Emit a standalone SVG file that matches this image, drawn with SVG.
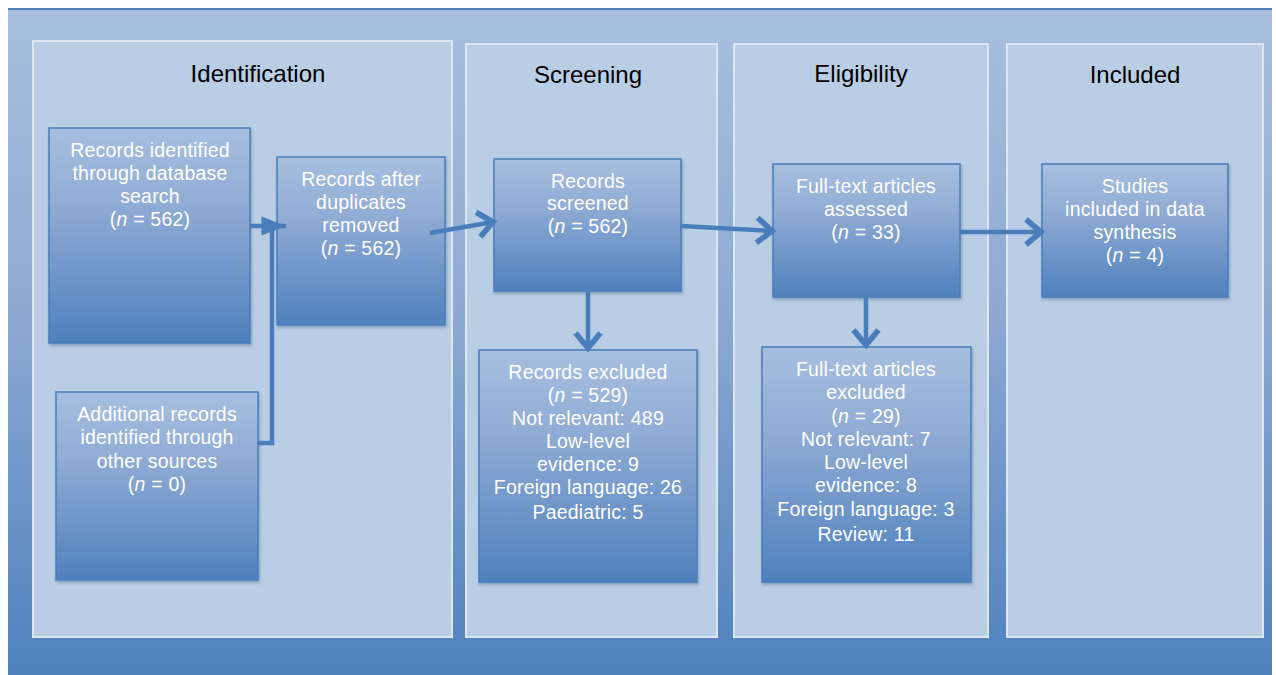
<svg xmlns="http://www.w3.org/2000/svg" width="1276" height="675" viewBox="0 0 1276 675">
<defs>
<linearGradient id="bg" x1="0" y1="0" x2="0" y2="1">
<stop offset="0" stop-color="#a8c0de"/>
<stop offset="0.45" stop-color="#8eaad3"/>
<stop offset="1" stop-color="#4f81bd"/>
</linearGradient>
<linearGradient id="node" x1="0" y1="0" x2="0" y2="1">
<stop offset="0" stop-color="#a7bfdf"/>
<stop offset="0.35" stop-color="#91acd5"/>
<stop offset="1" stop-color="#4f81bd"/>
</linearGradient>
<marker id="chev" markerUnits="userSpaceOnUse" markerWidth="30" markerHeight="30" refX="0" refY="0" viewBox="-16 -12 20 24" orient="auto">
<path d="M -12 -10 L 0 0 L -12 10" fill="none" stroke="#4a7ebb" stroke-width="4.5" stroke-linejoin="miter"/>
</marker>
<marker id="tri" markerUnits="userSpaceOnUse" markerWidth="30" markerHeight="30" refX="0" refY="0" viewBox="-20 -10 22 20" orient="auto">
<path d="M -18 -7 L 0 0 L -18 7 Z" fill="#4a7ebb"/>
</marker>
<filter id="sh" x="-5%" y="-5%" width="110%" height="110%">
<feDropShadow dx="1" dy="2" stdDeviation="1.5" flood-color="#1f3f66" flood-opacity="0.35"/>
</filter>
</defs>
<style>
.panel{fill:#b9cde5;stroke:#dde7f2;stroke-width:2}
.box{fill:url(#node);stroke:#4a7ebb;stroke-width:1.5}
.title{font-family:"Liberation Sans",Arial,sans-serif;font-size:24px;fill:#000;text-anchor:middle}
.t{font-family:"Liberation Sans",Arial,sans-serif;font-size:19.5px;letter-spacing:0.2px;fill:#fff;text-anchor:middle}
.conn{fill:none;stroke:#4a7ebb;stroke-width:4.5}
</style>
<rect x="0" y="0" width="1276" height="675" fill="#ffffff"/>
<rect x="8" y="8" width="1264" height="667" fill="url(#bg)"/>
<line x1="8" y1="9" x2="1272" y2="9" stroke="#4f81bd" stroke-width="2"/>

<g id="panel-identification">
<rect class="panel" x="33" y="41" width="419" height="596"/>
<text class="title" x="258" y="82">Identification</text>
</g>
<g id="panel-screening">
<rect class="panel" x="466" y="44" width="251" height="593"/>
<text class="title" x="588" y="83">Screening</text>
</g>
<g id="panel-eligibility">
<rect class="panel" x="734" y="44" width="254" height="593"/>
<text class="title" x="861" y="82">Eligibility</text>
</g>
<g id="panel-included">
<rect class="panel" x="1007" y="44" width="256" height="593"/>
<text class="title" x="1135" y="83">Included</text>
</g>

<g id="node-db">
<rect class="box" filter="url(#sh)" x="49" y="128" width="201" height="215"/>
<text class="t" x="150" y="157">Records identified</text>
<text class="t" x="150" y="180">through database</text>
<text class="t" x="150" y="203">search</text>
<text class="t" x="150" y="226">(<tspan font-style="italic">n</tspan> = 562)</text>
</g>
<g id="node-dup">
<rect class="box" filter="url(#sh)" x="277" y="157" width="168" height="168"/>
<text class="t" x="361" y="186">Records after</text>
<text class="t" x="361" y="209">duplicates</text>
<text class="t" x="361" y="232">removed</text>
<text class="t" x="361" y="255">(<tspan font-style="italic">n</tspan> = 562)</text>
</g>
<g id="node-other">
<rect class="box" filter="url(#sh)" x="56" y="392" width="202" height="188"/>
<text class="t" x="157" y="421">Additional records</text>
<text class="t" x="157" y="444">identified through</text>
<text class="t" x="157" y="468">other sources</text>
<text class="t" x="157" y="491">(<tspan font-style="italic">n</tspan> = 0)</text>
</g>
<g id="node-screened">
<rect class="box" filter="url(#sh)" x="494" y="159" width="187" height="132"/>
<text class="t" x="588" y="188">Records</text>
<text class="t" x="588" y="210">screened</text>
<text class="t" x="588" y="233">(<tspan font-style="italic">n</tspan> = 562)</text>
</g>
<g id="node-excluded">
<rect class="box" filter="url(#sh)" x="479" y="350" width="218" height="232"/>
<text class="t" x="588" y="379">Records excluded</text>
<text class="t" x="588" y="402">(<tspan font-style="italic">n</tspan> = 529)</text>
<text class="t" x="588" y="425">Not relevant: 489</text>
<text class="t" x="588" y="448">Low-level</text>
<text class="t" x="588" y="471">evidence: 9</text>
<text class="t" x="588" y="494">Foreign language: 26</text>
<text class="t" x="588" y="519">Paediatric: 5</text>
</g>
<g id="node-fulltext">
<rect class="box" filter="url(#sh)" x="773" y="164" width="187" height="133"/>
<text class="t" x="866" y="193">Full-text articles</text>
<text class="t" x="866" y="216">assessed</text>
<text class="t" x="866" y="239">(<tspan font-style="italic">n</tspan> = 33)</text>
</g>
<g id="node-ft-excluded">
<rect class="box" filter="url(#sh)" x="762" y="347" width="209" height="235"/>
<text class="t" x="866" y="376">Full-text articles</text>
<text class="t" x="866" y="399">excluded</text>
<text class="t" x="866" y="423">(<tspan font-style="italic">n</tspan> = 29)</text>
<text class="t" x="866" y="446">Not relevant: 7</text>
<text class="t" x="866" y="469">Low-level</text>
<text class="t" x="866" y="492">evidence: 8</text>
<text class="t" x="866" y="516">Foreign language: 3</text>
<text class="t" x="866" y="541">Review: 11</text>
</g>
<g id="node-included">
<rect class="box" filter="url(#sh)" x="1042" y="164" width="186" height="133"/>
<text class="t" x="1135" y="193">Studies</text>
<text class="t" x="1135" y="216">included in data</text>
<text class="t" x="1135" y="239">synthesis</text>
<text class="t" x="1135" y="262">(<tspan font-style="italic">n</tspan> = 4)</text>
</g>

<g id="connectors">
<path class="conn" d="M 258 443 L 272 443 L 272 226"/>
<path class="conn" d="M 250 226 L 286 226" marker-end="url(#tri)"/>
<path class="conn" d="M 430 233 L 493 222" marker-end="url(#chev)"/>
<path class="conn" d="M 588 291 L 588 348" marker-end="url(#chev)"/>
<path class="conn" d="M 681 226 L 772 231" marker-end="url(#chev)"/>
<path class="conn" d="M 866 297 L 866 345" marker-end="url(#chev)"/>
<path class="conn" d="M 960 232 L 1041 232" marker-end="url(#chev)"/>
</g>
</svg>
